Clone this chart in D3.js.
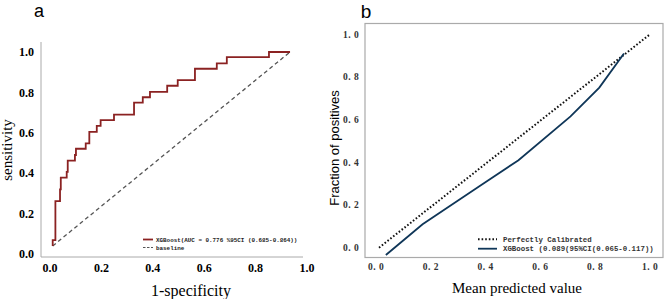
<!DOCTYPE html>
<html>
<head>
<meta charset="utf-8">
<script src="https://cdn.jsdelivr.net/npm/d3@7"></script>
<style>
  body { margin: 0; background: #fff; }
  svg { display: block; }
</style>
</head>
<body>
<div id="chart"></div>
<script>
// ROC curve (panel a): step points, 1-specificity / sensitivity
const rocFpr = [0.0105, 0.0105, 0.021, 0.021, 0.039, 0.039, 0.042, 0.042, 0.065, 0.065, 0.069, 0.069,
  0.097, 0.097, 0.101, 0.101, 0.139, 0.139, 0.153, 0.153, 0.182, 0.182, 0.197, 0.197, 0.249, 0.249,
  0.327, 0.327, 0.361, 0.361, 0.389, 0.389, 0.456, 0.456, 0.497, 0.497, 0.564, 0.564, 0.649, 0.649,
  0.688, 0.688, 0.852, 0.852, 0.934];
const rocTpr = [0.040, 0.069, 0.069, 0.262, 0.262, 0.320, 0.320, 0.378, 0.378, 0.407, 0.407, 0.462,
  0.462, 0.490, 0.490, 0.521, 0.521, 0.548, 0.548, 0.605, 0.605, 0.634, 0.634, 0.663, 0.663, 0.690,
  0.690, 0.749, 0.749, 0.776, 0.776, 0.803, 0.803, 0.833, 0.833, 0.861, 0.861, 0.917, 0.917, 0.944,
  0.944, 0.975, 0.975, 1.0, 1.0];
const baselineX = [0.0105, 0.934];
const baselineY = [0.040, 1.0];

// Calibration curve (panel b)
const calibX = [0.036, 0.17, 0.38, 0.52, 0.71, 0.815, 0.905];
const calibY = [-0.034, 0.11, 0.29, 0.41, 0.615, 0.75, 0.91];
const perfectX = [0.011, 1.0];
const perfectY = [0.0, 1.0];

const ticks = [0, 0.2, 0.4, 0.6, 0.8, 1.0];
const rocLegend = ["XGBoost(AUC = 0.776 %95CI (0.685-0.864))", "baseline"];
const calLegend = ["Perfectly Calibrated", "XGBoost (0.089(95%CI(0.065-0.117))"];

const width = 669, height = 299;
const svg = d3.select("#chart").append("svg")
    .attr("width", width)
    .attr("height", height);

// ---------- panel a ----------
const xa = d3.scaleLinear().domain([0, 1]).range([50, 307]);
const ya = d3.scaleLinear().domain([0, 1]).range([254, 52]);

const ga = svg.append("g");

// spines
ga.append("line").attr("x1", 41).attr("x2", 41).attr("y1", 42).attr("y2", 257)
    .attr("stroke", "#aaa").attr("stroke-width", 1);
ga.append("line").attr("x1", 41).attr("x2", 303).attr("y1", 257).attr("y2", 257)
    .attr("stroke", "#aaa").attr("stroke-width", 1);

// tick labels
ga.selectAll(".ytick").data(ticks).enter().append("text")
    .attr("x", 34).attr("y", d => ya(d)).attr("dy", "0.35em")
    .attr("text-anchor", "end")
    .attr("font-family", "Liberation Serif").attr("font-weight", "bold").attr("font-size", 12)
    .text(d => d.toFixed(1));
ga.selectAll(".xtick").data(ticks).enter().append("text")
    .attr("x", d => xa(d)).attr("y", 272)
    .attr("text-anchor", "middle")
    .attr("font-family", "Liberation Serif").attr("font-weight", "bold").attr("font-size", 12)
    .text(d => d.toFixed(1));

// baseline
ga.append("path")
    .datum(d3.zip(baselineX, baselineY))
    .attr("d", d3.line().x(d => xa(d[0])).y(d => ya(d[1])))
    .attr("fill", "none").attr("stroke", "#555").attr("stroke-width", 1.3)
    .attr("stroke-dasharray", "4,3");

// roc curve
ga.append("path")
    .datum(d3.zip(rocFpr, rocTpr))
    .attr("d", d3.line().x(d => xa(d[0])).y(d => ya(d[1])))
    .attr("fill", "none").attr("stroke", "#8b2222").attr("stroke-width", 1.8);

// legend a
ga.append("line").attr("x1", 143).attr("x2", 153).attr("y1", 239.5).attr("y2", 239.5)
    .attr("stroke", "#8b2222").attr("stroke-width", 1.8);
ga.append("line").attr("x1", 143).attr("x2", 153).attr("y1", 247.5).attr("y2", 247.5)
    .attr("stroke", "#555").attr("stroke-width", 1.2).attr("stroke-dasharray", "2.5,1.5");
ga.selectAll(".leg").data(rocLegend).enter().append("text")
    .attr("x", 156).attr("y", (d, i) => 239.5 + i * 8).attr("dy", "0.35em")
    .attr("font-family", "Liberation Mono").attr("font-weight", "bold").attr("font-size", 5.9)
    .attr("fill", "#222")
    .text(d => d);

// axis titles
ga.append("text").attr("x", 191).attr("y", 296)
    .attr("text-anchor", "middle")
    .attr("font-family", "Liberation Serif").attr("font-size", 16)
    .text("1-specificity");
ga.append("text")
    .attr("transform", "translate(12,150) rotate(-90)")
    .attr("text-anchor", "middle")
    .attr("font-family", "Liberation Serif").attr("font-size", 15)
    .text("sensitivity");
ga.append("text").attr("x", 39).attr("y", 17)
    .attr("text-anchor", "middle")
    .attr("font-family", "Liberation Sans").attr("font-size", 18)
    .text("a");

// ---------- panel b ----------
const xb = d3.scaleLinear().domain([0, 1]).range([376, 650]);
const yb = d3.scaleLinear().domain([0, 1]).range([247.7, 34.3]);

const gb = svg.append("g");

gb.append("rect").attr("x", 365).attr("y", 23.5).attr("width", 298).attr("height", 234)
    .attr("fill", "none").attr("stroke", "#aaa").attr("stroke-width", 1.2);

gb.selectAll(".ytick").data(ticks).enter().append("text")
    .attr("x", 351).attr("y", d => yb(d)).attr("dy", "0.35em")
    .attr("text-anchor", "middle")
    .attr("font-family", "Liberation Serif").attr("font-weight", "bold").attr("font-size", 9.5)
    .attr("fill", "#333").attr("letter-spacing", 0.5)
    .text(d => d.toFixed(1).replace(".", ". "));
gb.selectAll(".xtick").data(ticks).enter().append("text")
    .attr("x", d => xb(d)).attr("y", 267).attr("dy", "0.35em")
    .attr("text-anchor", "middle")
    .attr("font-family", "Liberation Serif").attr("font-weight", "bold").attr("font-size", 9.5)
    .attr("fill", "#333").attr("letter-spacing", 0.5)
    .text(d => d.toFixed(1).replace(".", ". "));

// perfectly calibrated
gb.append("path")
    .datum(d3.zip(perfectX, perfectY))
    .attr("d", d3.line().x(d => xb(d[0])).y(d => yb(d[1])))
    .attr("fill", "none").attr("stroke", "#111").attr("stroke-width", 2)
    .attr("stroke-dasharray", "1.6,2");

// calibration curve
gb.append("path")
    .datum(d3.zip(calibX, calibY))
    .attr("d", d3.line().x(d => xb(d[0])).y(d => yb(d[1])))
    .attr("fill", "none").attr("stroke", "#0f3658").attr("stroke-width", 1.8);

// legend b
gb.append("line").attr("x1", 478).attr("x2", 497).attr("y1", 239.3).attr("y2", 239.3)
    .attr("stroke", "#111").attr("stroke-width", 2).attr("stroke-dasharray", "1.6,2");
gb.append("line").attr("x1", 478).attr("x2", 497).attr("y1", 248.7).attr("y2", 248.7)
    .attr("stroke", "#0f3658").attr("stroke-width", 1.8);
gb.selectAll(".leg").data(calLegend).enter().append("text")
    .attr("x", 503).attr("y", (d, i) => 239.3 + i * 9.4).attr("dy", "0.35em")
    .attr("font-family", "Liberation Mono").attr("font-weight", "bold").attr("font-size", 7.4)
    .attr("fill", "#333")
    .text(d => d);

gb.append("text").attr("x", 517).attr("y", 293)
    .attr("text-anchor", "middle")
    .attr("font-family", "Liberation Serif").attr("font-size", 15)
    .text("Mean predicted value");
gb.append("text")
    .attr("transform", "translate(339,148) rotate(-90)")
    .attr("text-anchor", "middle")
    .attr("font-family", "Liberation Sans").attr("font-size", 13)
    .text("Fraction of positives");
gb.append("text").attr("x", 366).attr("y", 18)
    .attr("text-anchor", "middle")
    .attr("font-family", "Liberation Sans").attr("font-size", 19)
    .text("b");
</script>
</body>
</html>
